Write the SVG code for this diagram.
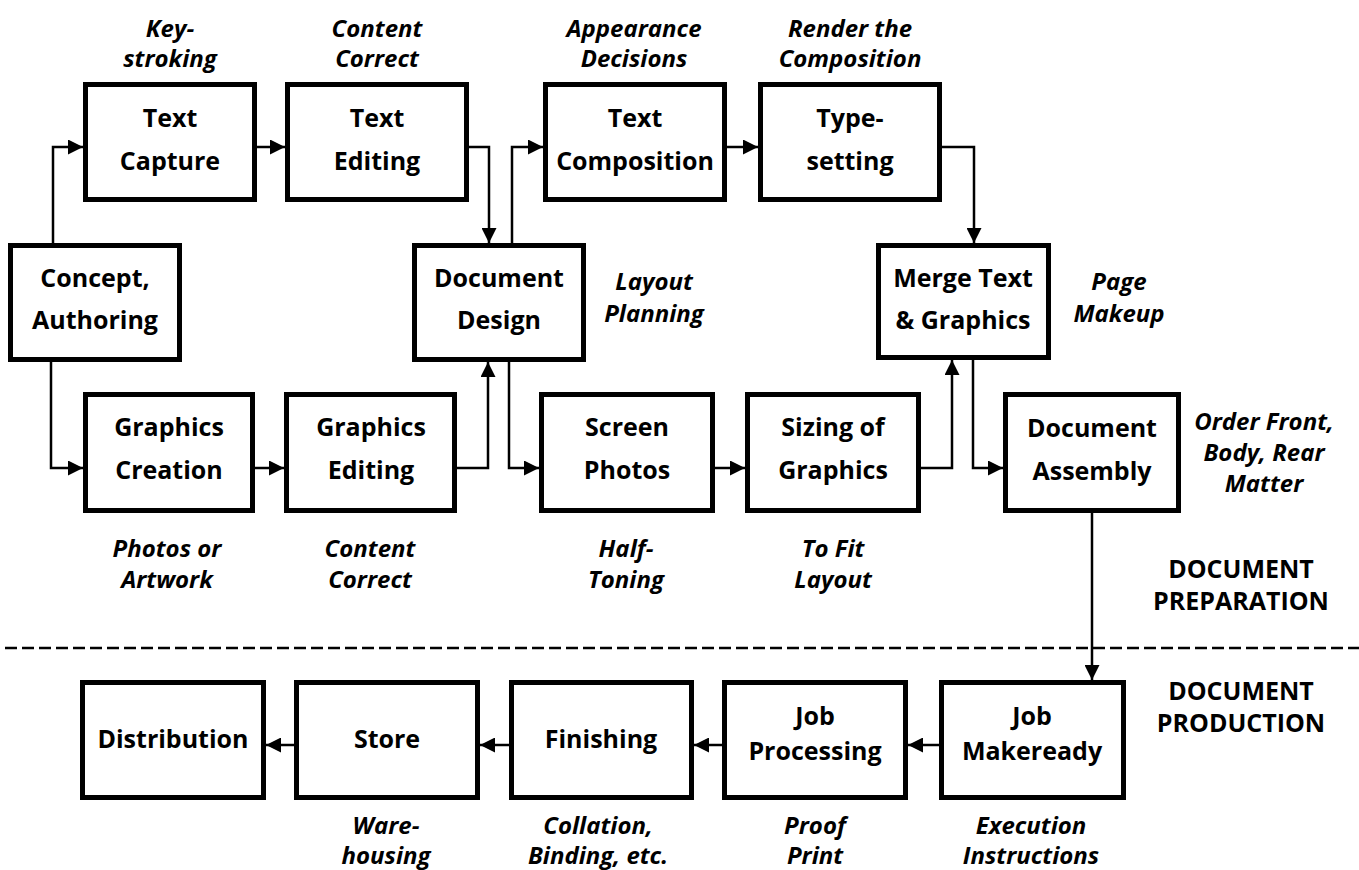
<svg xmlns="http://www.w3.org/2000/svg" width="1359" height="870" viewBox="0 0 1359 870">
<style>
.box{fill:#fff;stroke:#000;stroke-width:5}
.nt{font-family:"Open Sans","Liberation Sans",sans-serif;font-weight:bold;font-size:25px;text-anchor:middle;fill:#000}
.lb{font-family:"Open Sans","Liberation Sans",sans-serif;font-weight:bold;font-style:italic;font-size:24px;text-anchor:middle;fill:#000}
.sec{font-family:"Open Sans","Liberation Sans",sans-serif;font-weight:bold;font-size:25px;text-anchor:middle;fill:#000}
.cn{fill:none;stroke:#000;stroke-width:2.5;marker-end:url(#ah)}
</style>
<defs>
<marker id="ah" markerUnits="userSpaceOnUse" markerWidth="15" markerHeight="15" refX="15" refY="7.5" orient="auto">
<path d="M0,0 L15,7.5 L0,15 z" fill="#000"/>
</marker>
</defs>
<rect width="1359" height="870" fill="#fff"/>
<line x1="5" y1="648" x2="1359" y2="648" stroke="#000" stroke-width="2.5" stroke-dasharray="12 5"/>
<g id="connectors">
<path class="cn" d="M53,243 V147 H83"/>
<path class="cn" d="M51,362 V468 H83"/>
<path class="cn" d="M257,147 H285"/>
<path class="cn" d="M469,147 H489 V243"/>
<path class="cn" d="M512,243 V147 H543"/>
<path class="cn" d="M727,147 H758"/>
<path class="cn" d="M942,147 H974 V243"/>
<path class="cn" d="M255,468 H284"/>
<path class="cn" d="M457,468 H488 V362"/>
<path class="cn" d="M509,362 V468 H539"/>
<path class="cn" d="M715,468 H745"/>
<path class="cn" d="M921,468 H952 V360"/>
<path class="cn" d="M973,360 V468 H1003"/>
<path class="cn" d="M1092,513 V680"/>
<path class="cn" d="M939,745 H908"/>
<path class="cn" d="M722,745 H694"/>
<path class="cn" d="M509,745 H480"/>
<path class="cn" d="M294,745 H266"/>
</g>
<g id="text-capture"><rect class="box" x="85.5" y="84.5" width="169" height="115"/><text class="nt" x="170" y="127">Text</text><text class="nt" x="170" y="170">Capture</text></g>
<g id="text-editing"><rect class="box" x="287.5" y="84.5" width="179" height="115"/><text class="nt" x="377" y="127">Text</text><text class="nt" x="377" y="170">Editing</text></g>
<g id="text-composition"><rect class="box" x="545.5" y="84.5" width="179" height="115"/><text class="nt" x="635" y="127">Text</text><text class="nt" x="635" y="170">Composition</text></g>
<g id="typesetting"><rect class="box" x="760.5" y="84.5" width="179" height="115"/><text class="nt" x="850" y="127">Type-</text><text class="nt" x="850" y="170">setting</text></g>
<g id="concept"><rect class="box" x="10.5" y="245.5" width="169" height="114"/><text class="nt" x="95" y="287">Concept,</text><text class="nt" x="95" y="329">Authoring</text></g>
<g id="document-design"><rect class="box" x="414.5" y="245.5" width="169" height="114"/><text class="nt" x="499" y="287">Document</text><text class="nt" x="499" y="329">Design</text></g>
<g id="merge"><rect class="box" x="878.5" y="245.5" width="170" height="112"/><text class="nt" x="963" y="287">Merge Text</text><text class="nt" x="963" y="329">&amp; Graphics</text></g>
<g id="graphics-creation"><rect class="box" x="85.5" y="394.5" width="167" height="116"/><text class="nt" x="169" y="436">Graphics</text><text class="nt" x="169" y="479">Creation</text></g>
<g id="graphics-editing"><rect class="box" x="286.5" y="394.5" width="168" height="116"/><text class="nt" x="371" y="436">Graphics</text><text class="nt" x="371" y="479">Editing</text></g>
<g id="screen-photos"><rect class="box" x="541.5" y="394.5" width="171" height="116"/><text class="nt" x="627" y="436">Screen</text><text class="nt" x="627" y="479">Photos</text></g>
<g id="sizing"><rect class="box" x="747.5" y="394.5" width="171" height="116"/><text class="nt" x="833" y="436">Sizing of</text><text class="nt" x="833" y="479">Graphics</text></g>
<g id="document-assembly"><rect class="box" x="1005.5" y="394.5" width="173" height="116"/><text class="nt" x="1092" y="437">Document</text><text class="nt" x="1092" y="480">Assembly</text></g>
<g id="distribution"><rect class="box" x="82.5" y="682.5" width="181" height="115"/><text class="nt" x="173" y="748">Distribution</text></g>
<g id="store"><rect class="box" x="296.5" y="682.5" width="181" height="115"/><text class="nt" x="387" y="748">Store</text></g>
<g id="finishing"><rect class="box" x="511.5" y="682.5" width="180" height="115"/><text class="nt" x="601" y="748">Finishing</text></g>
<g id="job-processing"><rect class="box" x="724.5" y="682.5" width="181" height="115"/><text class="nt" x="815" y="725">Job</text><text class="nt" x="815" y="760">Processing</text></g>
<g id="job-makeready"><rect class="box" x="941.5" y="682.5" width="182" height="115"/><text class="nt" x="1032" y="725">Job</text><text class="nt" x="1032" y="760">Makeready</text></g>
<g id="labels">
<text class="lb" x="170" y="37">Key-</text><text class="lb" x="170" y="67">stroking</text>
<text class="lb" x="377" y="37">Content</text><text class="lb" x="377" y="67">Correct</text>
<text class="lb" x="634" y="37">Appearance</text><text class="lb" x="634" y="67">Decisions</text>
<text class="lb" x="850" y="37">Render the</text><text class="lb" x="850" y="67">Composition</text>
<text class="lb" x="654" y="290">Layout</text><text class="lb" x="654" y="322">Planning</text>
<text class="lb" x="1119" y="290">Page</text><text class="lb" x="1119" y="322">Makeup</text>
<text class="lb" x="1264" y="430">Order Front,</text><text class="lb" x="1264" y="461">Body, Rear</text><text class="lb" x="1264" y="492">Matter</text>
<text class="lb" x="167" y="557">Photos or</text><text class="lb" x="167" y="588">Artwork</text>
<text class="lb" x="370" y="557">Content</text><text class="lb" x="370" y="588">Correct</text>
<text class="lb" x="626" y="557">Half-</text><text class="lb" x="626" y="588">Toning</text>
<text class="lb" x="833" y="557">To Fit</text><text class="lb" x="833" y="588">Layout</text>
<text class="lb" x="386" y="834">Ware-</text><text class="lb" x="386" y="864">housing</text>
<text class="lb" x="598" y="834">Collation,</text><text class="lb" x="598" y="864">Binding, etc.</text>
<text class="lb" x="815" y="834">Proof</text><text class="lb" x="815" y="864">Print</text>
<text class="lb" x="1031" y="834">Execution</text><text class="lb" x="1031" y="864">Instructions</text>
<text class="sec" x="1241" y="578">DOCUMENT</text><text class="sec" x="1241" y="610">PREPARATION</text>
<text class="sec" x="1241" y="700">DOCUMENT</text><text class="sec" x="1241" y="732">PRODUCTION</text>
</g>
</svg>
